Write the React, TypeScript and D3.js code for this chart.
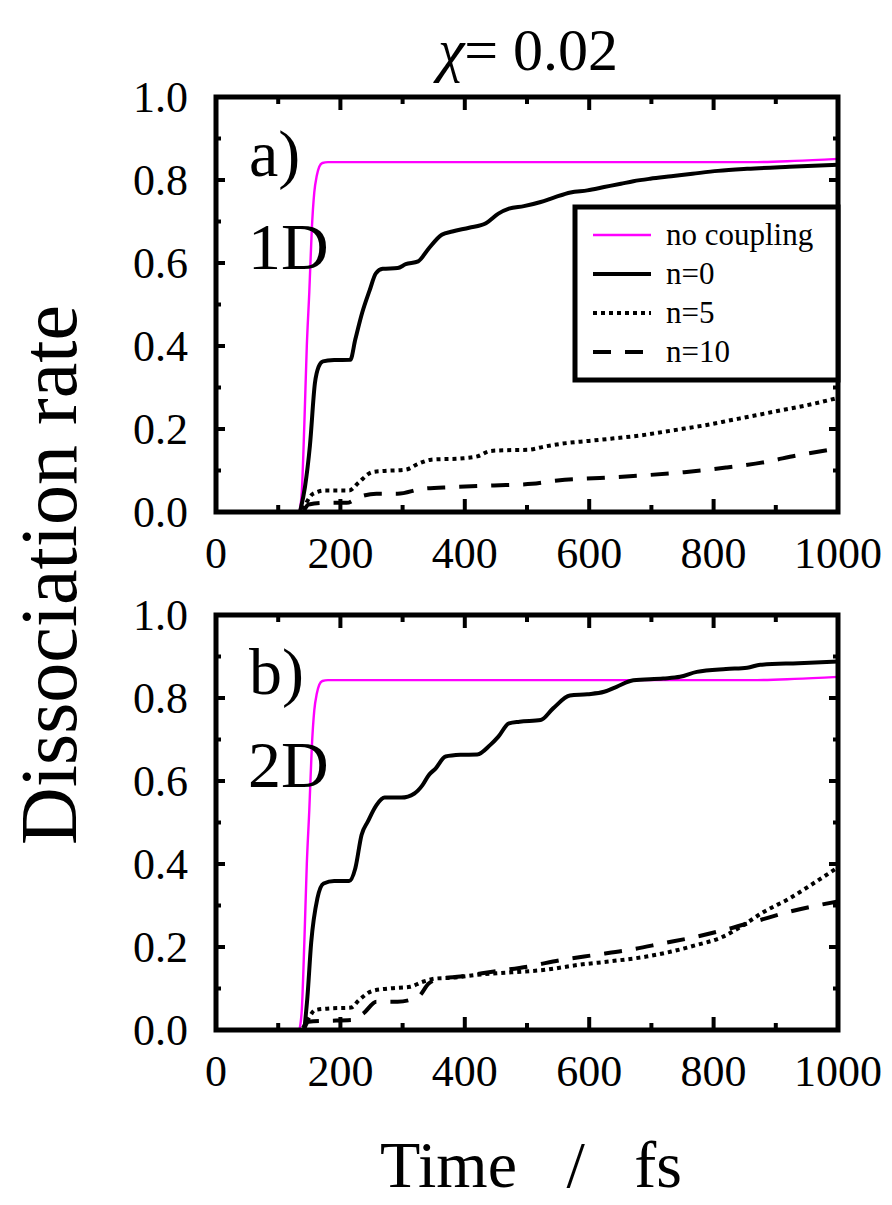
import React from "react";
import * as d3 from "d3";

// time (fs) vs dissociation rate
const xTicks = [0, 200, 400, 600, 800, 1000];
const yTicks = [0, 0.2, 0.4, 0.6, 0.8, 1.0];
const legendLabels = ["no coupling", "n=0", "n=5", "n=10"];

const noCoupling1D: [number, number][] = [
  [134, 0], [138, 0.05], [142, 0.21], [146, 0.4], [150, 0.53], [154, 0.68], [158, 0.77],
  [162, 0.81], [166, 0.832], [171, 0.841], [180, 0.843], [860, 0.843], [930, 0.846], [1000, 0.851],
];
const n0_1D: [number, number][] = [
  [135, 0], [143, 0.06], [151, 0.16], [159, 0.31], [165, 0.35], [172, 0.363], [190, 0.366],
  [216, 0.367], [224, 0.416], [235, 0.48], [247, 0.534], [257, 0.575], [268, 0.586], [292, 0.588],
  [305, 0.597], [325, 0.604], [342, 0.635], [363, 0.668], [380, 0.676], [407, 0.685], [434, 0.696],
  [454, 0.719], [471, 0.731], [495, 0.737], [522, 0.747], [542, 0.757], [570, 0.77], [597, 0.775],
  [624, 0.783], [651, 0.791], [671, 0.797], [698, 0.803], [732, 0.809], [766, 0.815], [807, 0.822],
  [854, 0.827], [922, 0.832], [1000, 0.837],
];
const n5_1D: [number, number][] = [
  [140, 0.005], [146, 0.024], [156, 0.044], [176, 0.052], [214, 0.052], [230, 0.072], [251, 0.096],
  [271, 0.099], [305, 0.102], [325, 0.116], [346, 0.126], [393, 0.129], [420, 0.134], [441, 0.147],
  [468, 0.149], [502, 0.15], [529, 0.158], [563, 0.166], [597, 0.171], [637, 0.177], [685, 0.185],
  [719, 0.193], [753, 0.201], [786, 0.209], [827, 0.221], [868, 0.233], [908, 0.245], [949, 0.257],
  [1000, 0.275],
];
const n10_1D: [number, number][] = [
  [142, 0.005], [149, 0.018], [176, 0.022], [210, 0.022], [230, 0.036], [258, 0.044], [292, 0.044],
  [332, 0.056], [380, 0.06], [447, 0.064], [508, 0.068], [549, 0.076], [617, 0.082], [685, 0.088],
  [753, 0.096], [820, 0.107], [881, 0.12], [936, 0.137], [1000, 0.153],
];

const noCoupling2D: [number, number][] = [
  [134, 0], [138, 0.05], [142, 0.21], [146, 0.4], [150, 0.53], [154, 0.68], [158, 0.77],
  [162, 0.81], [166, 0.832], [171, 0.841], [180, 0.843], [860, 0.843], [930, 0.846], [1000, 0.851],
];
const n0_2D: [number, number][] = [
  [142, 0], [147, 0.08], [153, 0.21], [163, 0.317], [173, 0.353], [190, 0.359], [214, 0.359],
  [224, 0.39], [234, 0.47], [244, 0.502], [258, 0.542], [271, 0.56], [298, 0.56], [319, 0.57],
  [332, 0.59], [342, 0.614], [353, 0.63], [369, 0.659], [393, 0.663], [420, 0.664], [441, 0.687],
  [454, 0.707], [471, 0.739], [488, 0.743], [522, 0.747], [542, 0.775], [569, 0.806], [597, 0.809],
  [624, 0.815], [644, 0.827], [671, 0.843], [719, 0.847], [746, 0.851], [773, 0.863], [820, 0.87],
  [854, 0.873], [875, 0.88], [936, 0.884], [1000, 0.888],
];
const n5_2D: [number, number][] = [
  [140, 0.005], [149, 0.028], [159, 0.048], [183, 0.052], [217, 0.054], [230, 0.072], [251, 0.094],
  [278, 0.1], [312, 0.104], [332, 0.116], [353, 0.124], [380, 0.126], [420, 0.133], [475, 0.139],
  [529, 0.145], [583, 0.157], [637, 0.166], [692, 0.177], [732, 0.189], [773, 0.205], [814, 0.224],
  [845, 0.25], [881, 0.285], [922, 0.317], [956, 0.349], [1000, 0.392],
];
const n10_2D: [number, number][] = [
  [142, 0.005], [149, 0.02], [176, 0.022], [217, 0.024], [237, 0.04], [258, 0.068], [292, 0.068],
  [325, 0.08], [342, 0.112], [359, 0.123], [393, 0.129], [447, 0.141], [502, 0.153], [556, 0.169],
  [610, 0.181], [664, 0.193], [719, 0.209], [773, 0.225], [827, 0.245], [868, 0.262], [922, 0.285],
  [1000, 0.31],
];

const FONT = '"Liberation Serif", "Times New Roman", serif';

// line look for no coupling, n=0, n=5, n=10
const lineStyles = [
  { color: "#ff00ff", width: 2.4, dash: undefined },
  { color: "#000", width: 4, dash: undefined },
  { color: "#000", width: 4, dash: "4 4" },
  { color: "#000", width: 4, dash: "18 14" },
];

const left = 216, right = 838, ph = 415;

function Panel({ top, tag, dim, series, legend, id }) {
  const x = d3.scaleLinear().domain([0, 1000]).range([left, right]);
  const y = d3.scaleLinear().domain([0, 1]).range([top + ph, top]);
  const line = d3.line<[number, number]>()
    .x(d => x(d[0]))
    .y(d => y(d[1]))
    .curve(d3.curveMonotoneX);

  const xMinor = d3.range(100, 1000, 100);
  const yMinor = d3.range(1, 10).map(d => d / 10);

  return (
    <g>
      <defs>
        <clipPath id={"clip" + id}>
          <rect x={left} y={top} width={right - left} height={ph} />
        </clipPath>
      </defs>

      {/* curves */}
      <g clipPath={`url(#clip${id})`}>
        {series.map((s, i) => (
          <path key={i} d={line(s)} fill="none" stroke={lineStyles[i].color}
            strokeWidth={lineStyles[i].width} strokeDasharray={lineStyles[i].dash} />
        ))}
      </g>

      {/* ticks, inward on all four sides */}
      {xMinor.map(t => {
        const major = t % 200 === 0;
        const len = major ? 13 : 7;
        return (
          <g key={"xt" + t} stroke="#000" strokeWidth={4}>
            <line x1={x(t)} x2={x(t)} y1={top + ph} y2={top + ph - len} />
            <line x1={x(t)} x2={x(t)} y1={top} y2={top + len} />
          </g>
        );
      })}
      {yMinor.map(v => {
        const major = Math.round(v * 10) % 2 === 0;
        const len = major ? 9 : 5;
        return (
          <g key={"yt" + v} stroke="#000" strokeWidth={4}>
            <line x1={left} x2={left + len} y1={y(v)} y2={y(v)} />
            <line x1={right} x2={right - len} y1={y(v)} y2={y(v)} />
          </g>
        );
      })}

      <rect x={left} y={top} width={right - left} height={ph} fill="none" stroke="#000" strokeWidth={5} />

      {/* tick labels */}
      {xTicks.map(t => (
        <text key={"xl" + t} x={x(t)} y={top + ph + 56} textAnchor="middle"
          fontFamily={FONT} fontSize={44}>{t}</text>
      ))}
      {yTicks.map(v => (
        <text key={"yl" + v} x={188} y={y(v) + 15} textAnchor="end"
          fontFamily={FONT} fontSize={44}>{v.toFixed(1)}</text>
      ))}

      <text x={249} y={top + 79} fontFamily={FONT} fontSize={66}>{tag}</text>
      <text x={248} y={top + 172} fontFamily={FONT} fontSize={66}>{dim}</text>

      {legend && (
        <g>
          <rect x={575} y={207} width={right - 575} height={173} fill="#fff" stroke="#000" strokeWidth={5} />
          {legendLabels.map((lab, i) => {
            const ly = 235 + i * 39;
            return (
              <g key={lab}>
                <line x1={593} x2={651} y1={ly} y2={ly} stroke={lineStyles[i].color}
                  strokeWidth={lineStyles[i].width} strokeDasharray={lineStyles[i].dash} />
                <text x={666} y={ly + 10} fontFamily={FONT} fontSize={31}>{lab}</text>
              </g>
            );
          })}
        </g>
      )}
    </g>
  );
}

export default function App() {
  return (
    <svg width={892} height={1205} style={{ position: "absolute", left: 0, top: 0, background: "#fff" }}>
      <text x={528} y={70} textAnchor="middle" fontFamily={FONT} fontSize={60}>
        <tspan fontStyle="italic">χ</tspan>= 0.02
      </text>
      <Panel id="a" top={97} tag="a)" dim="1D" series={[noCoupling1D, n0_1D, n5_1D, n10_1D]} legend={true} />
      <Panel id="b" top={615} tag="b)" dim="2D" series={[noCoupling2D, n0_2D, n5_2D, n10_2D]} legend={false} />
      <text transform="translate(76,575) rotate(-90)" textAnchor="middle" fontFamily={FONT} fontSize={80}>
        Dissociation rate
      </text>
      <text x={531} y={1187} textAnchor="middle" fontFamily={FONT} fontSize={66} style={{ whiteSpace: "pre" }}>
        {"Time   /   fs"}
      </text>
    </svg>
  );
}
